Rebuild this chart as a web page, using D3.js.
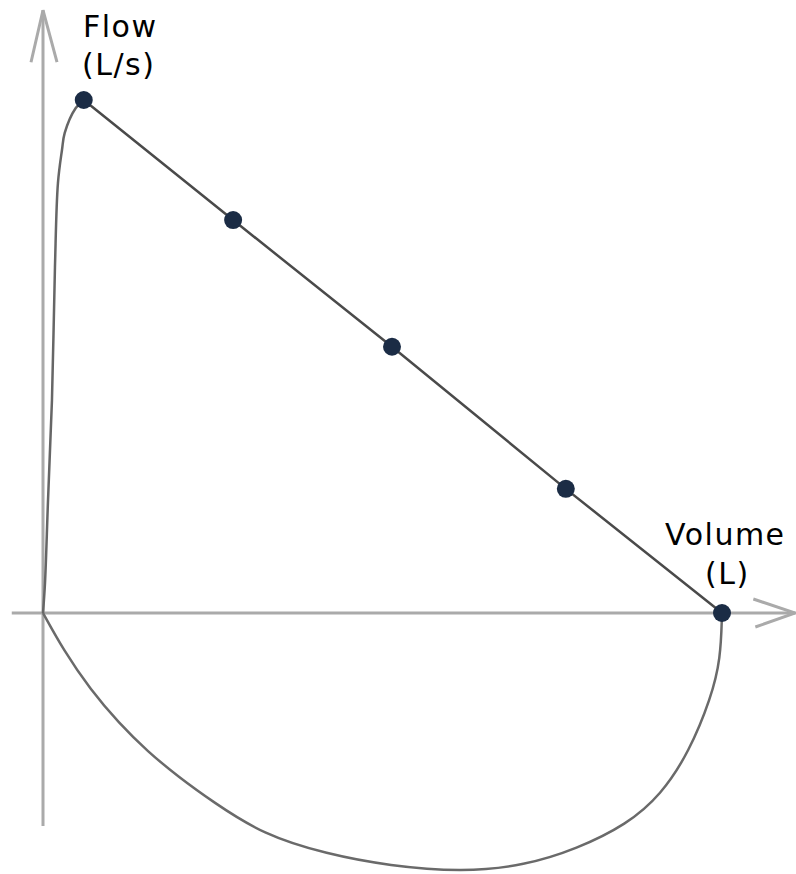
<!DOCTYPE html>
<html>
<head>
<meta charset="utf-8">
<script src="https://cdn.jsdelivr.net/npm/d3@7"></script>
<style>
  body { margin: 0; background: #fff; }
  svg text { font-family: "DejaVu Sans", sans-serif; font-size: 30px; fill: #000; letter-spacing: 1.5px; }
</style>
</head>
<body>
<div id="my_dataviz"></div>
<script>
// expiratory limb (rise to peak flow)
let expVolume = [0, 0.015, 0.037, 0.066, 0.088, 0.11, 0.14, 0.16, 0.24, 0.3];
let expFlow   = [0, 0.6, 2.2, 4.15, 6.74, 8.38, 9.03, 9.36, 9.84, 10];

// straight descending line with marked points
let dotVolume = [0.3, 1.4, 2.57, 3.85, 5];
let dotFlow   = [10, 7.66, 5.19, 2.42, 0];

// inspiratory limb (below the volume axis)
let inspVolume = [0, 0, 0.15, 0.35, 0.56, 0.77, 1.0, 1.25, 1.62, 2.09, 2.55, 3.09, 3.55, 3.93, 4.3, 4.55, 4.76, 4.92, 4.99, 5.0, 5.0];
let inspFlow   = [0, 0, -0.72, -1.5, -2.15, -2.7, -3.2, -3.68, -4.32, -4.7, -4.93, -5.05, -4.92, -4.6, -4.12, -3.55, -2.7, -1.65, -0.9, 0, 0];

let xAxisExtent = [-0.23, 5.54];
let yAxisExtent = [-4.15, 11.75];
let xLabel = ["Volume", "(L)"];
let yLabel = ["Flow", "(L/s)"];

let width = 796, height = 874;

let svg = d3.select("#my_dataviz")
    .append("svg")
    .attr("width", width)
    .attr("height", height);

let x = d3.scaleLinear().domain([0, 5]).range([43, 722]);
let y = d3.scaleLinear().domain([0, 10]).range([613, 100]);

let zip = (a, b) => a.map((v, i) => ({vol: v, flow: b[i]}));

let axisColor = "#aaaaaa";

// volume axis with arrow
let ax = svg.append("g").attr("stroke", axisColor).attr("stroke-width", 3).attr("fill", "none");
ax.append("line")
    .attr("x1", x(xAxisExtent[0])).attr("x2", x(xAxisExtent[1]))
    .attr("y1", y(0)).attr("y2", y(0));
ax.append("path")
    .attr("d", "M" + (x(xAxisExtent[1]) - 42) + "," + (y(0) - 14) +
               "L" + x(xAxisExtent[1]) + "," + y(0) +
               "L" + (x(xAxisExtent[1]) - 40) + "," + (y(0) + 14));

// flow axis with arrow
ax.append("line")
    .attr("x1", x(0)).attr("x2", x(0))
    .attr("y1", y(yAxisExtent[0])).attr("y2", y(yAxisExtent[1]));
ax.append("path")
    .attr("d", "M" + (x(0) - 12) + "," + (y(yAxisExtent[1]) + 52) +
               "L" + x(0) + "," + y(yAxisExtent[1]) +
               "L" + (x(0) + 14) + "," + (y(yAxisExtent[1]) + 52));

let line = d3.line()
    .x(d => x(d.vol))
    .y(d => y(d.flow));

svg.append("path")
    .datum(zip(inspVolume, inspFlow))
    .attr("d", line.curve(d3.curveBasis))
    .attr("stroke", "#6a6a6a")
    .attr("stroke-width", 2.5)
    .attr("fill", "none");

svg.append("path")
    .datum(zip(expVolume, expFlow))
    .attr("d", line.curve(d3.curveCatmullRom))
    .attr("stroke", "#666666")
    .attr("stroke-width", 2.5)
    .attr("fill", "none");

svg.append("path")
    .datum(zip(dotVolume, dotFlow))
    .attr("d", line.curve(d3.curveLinear))
    .attr("stroke", "#4a4a4a")
    .attr("stroke-width", 2.5)
    .attr("fill", "none");

svg.selectAll(".dot")
    .data(zip(dotVolume, dotFlow))
    .enter()
    .append("circle")
    .attr("class", "dot")
    .attr("cx", d => x(d.vol))
    .attr("cy", d => y(d.flow))
    .attr("r", 9)
    .attr("fill", "#1b2c45");

// labels
svg.append("text").attr("x", 83).attr("y", 37).text(yLabel[0]);
svg.append("text").attr("x", 82).attr("y", 75).text(yLabel[1]);
svg.append("text").attr("x", 665).attr("y", 545).text(xLabel[0]);
svg.append("text").attr("x", 705).attr("y", 584).text(xLabel[1]);
</script>
</body>
</html>
